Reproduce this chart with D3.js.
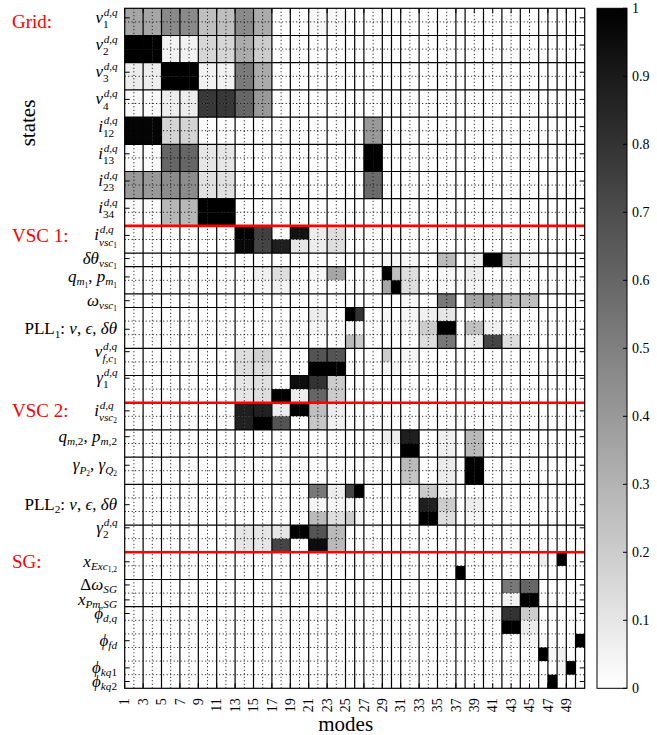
<!DOCTYPE html>
<html><head><meta charset="utf-8">
<script src="https://cdn.jsdelivr.net/npm/d3@7"></script>
<style>body{margin:0;background:#fff} text{font-family:"Liberation Serif","DejaVu Serif",serif;}</style>
</head><body>
<svg id="chart" width="657" height="735"></svg>
<script>
// ---------- DATA ----------
// modes grouped as they are delimited in the chart (conjugate pairs / real modes)
const modeGroups = [[1,2],[3,4],[5,6],[7,8],[9,10],[11,12],[13,14],[15,16],[17,18],[19,20],[21,22],[23,24],[25],[26],[27,28],[29],[30],[31,32],[33,34],[35,36],[37],[38,39],[40,41],[42,43],[44,45],[46],[47],[48],[49],[50]];
const xTickLabels = [1,3,5,7,9,11,13,15,17,19,21,23,25,27,29,31,33,35,37,39,41,43,45,47,49];
const sectionNames = ["Grid:", "VSC 1:", "VSC 2:", "SG:"];
const sectionGroupSizes = [[2,2,2,2,2,2,2,2],[2,1,2,1,3,2,2],[2,2,2,3,2],[2,2,6]];
const sectionLabelRows = [1.45, 17.2, 30.05, 41.15];
const yLabels = [
 "v_1^{d,q}", "v_2^{d,q}", "v_3^{d,q}", "v_4^{d,q}",
 "i_{12}^{d,q}", "i_{13}^{d,q}", "i_{23}^{d,q}", "i_{34}^{d,q}",
 "i_{vsc_1}^{d,q}", "\\delta\\theta_{vsc_1}", "q_{m_1}, p_{m_1}", "\\omega_{vsc_1}",
 "\\rm{PLL}_1\\rm{:} \\nu, \\epsilon, \\delta\\theta", "v_{f,c_1}^{d,q}", "\\gamma_1^{d,q}",
 "i_{vsc_2}^{d,q}", "q_{m,2}, p_{m,2}", "\\gamma_{P_2}, \\gamma_{Q_2}", "\\rm{PLL}_2\\rm{:} \\nu, \\epsilon, \\delta\\theta", "\\gamma_2^{d,q}",
 "x_{Exc_{1,2}}", "\\Delta\\omega_{SG}", "x_{Pm,SG}", "\\phi_{d,q}", "\\phi_{fd}", "\\phi_{kq1}", "\\phi_{kq2}"
];
const yLabelTicks = [0.7,2.7,4.7,6.7,8.7,10.7,12.7,14.7, 16.7,18.4,19.75,21.5,23.6,25.25,27.2, 29.6,31.5,33.6,36.5,38.2, 40.7,42.4,43.5,44.5,46.5,48.5,49.5];
const cbTicks = [0,0.1,0.2,0.3,0.4,0.5,0.6,0.7,0.8,0.9,1];

// participation values: each state row lists [first mode of group, value]
const gridVals = [
 [[1,.35],[3,.35],[5,.46],[7,.46],[9,.25],[11,.25],[13,.46],[15,.33],[21,.03],[23,.03]],
 [[1,.35],[3,.35],[5,.46],[7,.46],[9,.25],[11,.25],[13,.46],[15,.33],[21,.03],[23,.03]],
 [[1,1],[3,1],[5,.05],[7,.05],[9,.16],[11,.16],[13,.33],[15,.2]],
 [[1,1],[3,1],[5,.05],[7,.05],[9,.16],[11,.16],[13,.33],[15,.2]],
 [[1,.07],[3,.07],[5,1],[7,1],[9,.05],[11,.05],[13,.52],[15,.33]],
 [[1,.07],[3,.07],[5,1],[7,1],[9,.05],[11,.05],[13,.52],[15,.33]],
 [[1,.02],[3,.02],[5,.07],[7,.07],[9,.78],[11,.78],[13,.6],[15,.4]],
 [[1,.02],[3,.02],[5,.07],[7,.07],[9,.78],[11,.78],[13,.6],[15,.4]],
 [[1,.98],[3,.98],[5,.17],[7,.17],[9,.01],[11,.01],[27,.4]],
 [[1,.98],[3,.98],[5,.17],[7,.17],[9,.01],[11,.01],[27,.4]],
 [[1,.02],[3,.02],[5,.6],[7,.6],[9,.1],[11,.1],[27,1]],
 [[1,.02],[3,.02],[5,.6],[7,.6],[9,.1],[11,.1],[27,1]],
 [[1,.4],[3,.4],[5,.45],[7,.45],[9,.12],[11,.12],[27,.58]],
 [[1,.4],[3,.4],[5,.45],[7,.45],[9,.12],[11,.12],[27,.58]],
 [[1,.02],[3,.02],[5,.28],[7,.28],[9,1],[11,1]],
 [[1,.02],[3,.02],[5,.28],[7,.28],[9,1],[11,1]]
];
const vsc1Vals = [
 [[13,1],[15,.75],[19,.93],[21,.07],[23,.13]],
 [[13,.97],[15,.73],[17,.88],[19,.1],[21,.07],[23,.13]],
 [[29,.03],[30,.03],[31,.03],[35,.27],[38,.07],[40,1],[42,.22],[44,.04]],
 [[15,.06],[17,.13],[21,.03],[23,.35],[29,1],[30,.25],[31,.13],[35,.03],[38,.07]],
 [[15,.03],[17,.05],[29,.35],[30,1],[31,.13],[35,.02],[38,.04]],
 [[31,.03],[35,.53],[38,.35],[40,.4],[42,.28],[44,.25]],
 [[21,.07],[25,1],[26,.8],[29,.03],[31,.04],[33,.06],[35,.1]],
 [[21,.04],[25,.04],[26,.03],[31,.04],[33,.2],[35,1],[38,.25],[40,.06]],
 [[25,.27],[26,.2],[33,.13],[35,.53],[38,.07],[40,.73],[42,.13]],
 [[13,.13],[15,.18],[21,.67],[23,.67],[29,.2],[31,.04]],
 [[13,.13],[15,.13],[21,1],[23,1],[29,.04],[30,.04]],
 [[13,.1],[15,.12],[19,.95],[21,.8],[23,.2]],
 [[13,.1],[15,.13],[17,1],[19,.07],[21,.6],[23,.2]]
];
const vsc2Vals = [
 [[13,.88],[15,.87],[17,.07],[19,1],[21,.25],[23,.07]],
 [[13,.87],[15,1],[17,.67],[21,.22],[23,.06]],
 [[29,.07],[30,.07],[31,.88],[35,.06],[38,.27]],
 [[29,.02],[31,1],[35,.06],[38,.27]],
 [[31,.27],[35,.08],[38,1]],
 [[31,.23],[35,.07],[38,1]],
 [[21,.53],[23,.07],[25,.73],[26,1],[33,.2],[35,.06]],
 [[21,.04],[23,.04],[25,.03],[33,.88],[35,.2],[38,.07]],
 [[21,.27],[23,.13],[25,.2],[26,.04],[33,1],[35,.13],[38,.04]],
 [[13,.1],[15,.1],[17,.1],[19,1],[21,.67],[23,.27]],
 [[13,.1],[15,.1],[17,.73],[21,.95],[23,.27]]
];
const sgVals = [
 [[46,.07],[48,1]],
 [[37,1]],
 [[42,.53],[44,.6]],
 [[42,.05],[44,1]],
 [[40,.03],[42,.8],[44,.2]],
 [[42,1],[44,.08]],
 [[44,.04],[46,.03],[50,1]],
 [[46,1],[47,.03],[48,.06]],
 [[48,.04],[49,1]],
 [[47,1]]
];

// ---------- BUILD ----------
const nModes = 50;
const stateRows = [...gridVals, ...vsc1Vals, ...vsc2Vals, ...sgVals];
const nRows = stateRows.length;
const groupOf = {};
modeGroups.forEach(g => g.forEach(m => groupOf[m] = g));
const cells = [];
stateRows.forEach((row, r) => {
  const vals = new Array(nModes + 1).fill(0);
  row.forEach(([m0, v]) => groupOf[m0].forEach(m => vals[m] = v));
  for (let m = 1; m <= nModes; m++) cells.push({r, m, v: vals[m]});
});

const svg = d3.select('#chart');
const P = {x0: 124.7, x1: 584.7, y0: 8.3, y1: 688.3};
const xs = d3.scaleLinear().domain([1, nModes + 1]).range([P.x0, P.x1]);
const ys = d3.scaleLinear().domain([0, nRows]).range([P.y0, P.y1]);
const color = d3.scaleLinear().domain([0, 1]).range(['#ffffff', '#000000']);

// cells
svg.append('g').selectAll('rect').data(cells).join('rect')
  .attr('x', d => xs(d.m)).attr('y', d => ys(d.r))
  .attr('width', d => xs(d.m + 1) - xs(d.m) + 0.3)
  .attr('height', d => ys(d.r + 1) - ys(d.r) + 0.3)
  .attr('fill', d => color(d.v));

// vertical lines
const vLines = [];
modeGroups.forEach((g) => {
  g.forEach((m, k) => {
    if (m === nModes) return;
    vLines.push({e: m + 1, solid: k === g.length - 1});
  });
});
const lines = svg.append('g');
lines.selectAll('line.vd').data(vLines.filter(d => !d.solid)).join('line').attr('class','vd')
  .attr('x1', d => xs(d.e)).attr('x2', d => xs(d.e)).attr('y1', P.y0).attr('y2', P.y1)
  .attr('stroke', '#000').attr('stroke-width', 1).attr('stroke-dasharray', '1,2.5');

// horizontal lines
const hLines = [];
const sectionEdges = [];
let rr = 0;
sectionGroupSizes.forEach((sizes) => {
  sizes.forEach((n, gi) => {
    for (let k = 1; k < n; k++) hLines.push({e: rr + k, solid: false});
    rr += n;
    if (rr < nRows) {
      if (gi === sizes.length - 1) sectionEdges.push(rr);
      else hLines.push({e: rr, solid: true});
    }
  });
});
lines.selectAll('line.hd').data(hLines.filter(d => !d.solid)).join('line').attr('class','hd')
  .attr('y1', d => ys(d.e)).attr('y2', d => ys(d.e)).attr('x1', P.x0).attr('x2', P.x1)
  .attr('stroke', '#000').attr('stroke-width', 1).attr('stroke-dasharray', '1,2.5');
lines.selectAll('line.vs').data(vLines.filter(d => d.solid)).join('line').attr('class','vs')
  .attr('x1', d => xs(d.e)).attr('x2', d => xs(d.e)).attr('y1', P.y0).attr('y2', P.y1)
  .attr('stroke', '#000').attr('stroke-width', 1.2);
lines.selectAll('line.hs').data(hLines.filter(d => d.solid)).join('line').attr('class','hs')
  .attr('y1', d => ys(d.e)).attr('y2', d => ys(d.e)).attr('x1', P.x0).attr('x2', P.x1)
  .attr('stroke', '#000').attr('stroke-width', 1.2);
lines.selectAll('line.red').data(sectionEdges).join('line').attr('class','red')
  .attr('y1', d => ys(d)).attr('y2', d => ys(d)).attr('x1', P.x0).attr('x2', P.x1)
  .attr('stroke', '#ff0000').attr('stroke-width', 2.6);

// border
svg.append('rect').attr('x', P.x0).attr('y', P.y0).attr('width', P.x1 - P.x0).attr('height', P.y1 - P.y0)
  .attr('fill', 'none').attr('stroke', '#000').attr('stroke-width', 1.2);

// x ticks + labels
const xt = svg.append('g');
xTickLabels.forEach(k => {
  const x = xs(k);
  xt.append('line').attr('x1', x).attr('x2', x).attr('y1', P.y1).attr('y2', P.y1 - 5).attr('stroke', '#000');
  xt.append('line').attr('x1', x).attr('x2', x).attr('y1', P.y0).attr('y2', P.y0 + 5).attr('stroke', '#000');
  xt.append('text').attr('transform', `translate(${x},${P.y1 + 10}) rotate(-90)`)
    .attr('text-anchor', 'end').attr('dy', '0.33em').attr('font-size', 14).text(k);
});
svg.append('text').attr('x', (P.x0 + P.x1) / 2 - 9).attr('y', 731).attr('text-anchor', 'middle')
  .attr('font-size', 21).text('modes');
svg.append('text').attr('transform', 'translate(35,123) rotate(-90)').attr('text-anchor', 'middle')
  .attr('font-size', 21).text('states');

// section labels
sectionNames.forEach((s, i) => {
  svg.append('text').attr('x', 12).attr('y', ys(sectionLabelRows[i])).attr('font-size', 19)
    .attr('fill', '#ff0000').text(s);
});

// ---------- tiny TeX renderer for the state labels ----------
const greek = {delta:'δ', theta:'θ', omega:'ω', nu:'ν', epsilon:'ϵ', gamma:'γ', Delta:'Δ', phi:'ϕ'};
function parseTeX(s) {
  let i = 0;
  function seq(up) {
    const nodes = [];
    while (i < s.length) {
      const ch = s[i];
      if (ch === '}') { i++; return nodes; }
      if (ch === '_' || ch === '^') {
        i++;
        const arg = s[i] === '{' ? (i++, seq(up)) : atom(up);
        const last = nodes[nodes.length - 1];
        if (ch === '_') last.sub = arg; else last.sup = arg;
        continue;
      }
      nodes.push(...atom(up));
    }
    return nodes;
  }
  function atom(up) {
    const ch = s[i];
    if (ch === '{') { i++; return [{group: seq(up)}]; }
    if (ch === '\\') {
      i++; let name = '';
      while (i < s.length && /[a-zA-Z]/.test(s[i])) name += s[i++];
      if (name === 'rm') { i++; return [{group: seq(true)}]; }
      const g = greek[name];
      return [{text: g, italic: !up && g === g.toLowerCase()}];
    }
    i++;
    return [{text: ch, italic: !up && /[a-zA-Z]/.test(ch)}];
  }
  return seq(false);
}
function layout(g, nodes, size, x, base) {
  let cx = x;
  for (const n of nodes) {
    let w;
    if (n.group) w = layout(g, n.group, size, cx, base);
    else if (n.text === ' ') w = size * 0.25;
    else {
      const t = g.append('text').attr('x', cx).attr('y', base).attr('font-size', size.toFixed(2))
        .attr('font-style', n.italic ? 'italic' : 'normal').text(n.text);
      w = t.node().getComputedTextLength();
    }
    cx += w;
    if (n.sub || n.sup) {
      const ss = size * 0.66;
      let sw = 0;
      const both = n.sub && n.sup;
      if (n.sub) sw = Math.max(sw, layout(g, n.sub, ss, cx, base + size * (both ? 0.3 : 0.2)));
      if (n.sup) sw = Math.max(sw, layout(g, n.sup, ss, cx + (n.italic ? size * 0.04 : 0), base - size * 0.42));
      cx += sw;
    }
  }
  return cx - x;
}
const labelG = svg.append('g');
yLabels.forEach((lab, i) => {
  const g = labelG.append('g');
  const w = layout(g, parseTeX(lab), 17, 0, 0);
  g.attr('transform', `translate(${117 - w},${ys(yLabelTicks[i]) + 5})`);
  svg.append('line').attr('x1', P.x0).attr('x2', P.x0 + 5).attr('y1', ys(yLabelTicks[i])).attr('y2', ys(yLabelTicks[i])).attr('stroke', '#000');
  svg.append('line').attr('x1', P.x1).attr('x2', P.x1 - 5).attr('y1', ys(yLabelTicks[i])).attr('y2', ys(yLabelTicks[i])).attr('stroke', '#000');
});

// ---------- colorbar ----------
const CB = {x0: 597, x1: 627};
const cbScale = d3.scaleLinear().domain([0, 1]).range([P.y1, P.y0]);
const defs = svg.append('defs');
const grad = defs.append('linearGradient').attr('id', 'cbgrad').attr('x1', 0).attr('y1', 1).attr('x2', 0).attr('y2', 0);
cbTicks.forEach(t => grad.append('stop').attr('offset', t).attr('stop-color', color(t)));
svg.append('rect').attr('x', CB.x0).attr('y', cbScale(1)).attr('width', CB.x1 - CB.x0)
  .attr('height', cbScale(0) - cbScale(1)).attr('fill', 'url(#cbgrad)').attr('stroke', '#000').attr('stroke-width', 1);
const cbAxis = svg.append('g');
cbTicks.forEach(t => {
  const y = cbScale(t);
  cbAxis.append('line').attr('x1', CB.x1).attr('x2', CB.x1 - 4).attr('y1', y).attr('y2', y).attr('stroke', '#000');
  cbAxis.append('text').attr('x', CB.x1 + 5).attr('y', y).attr('dy', '0.35em').attr('font-size', 14).text(d3.format('~g')(t));
});
</script>
</body></html>
